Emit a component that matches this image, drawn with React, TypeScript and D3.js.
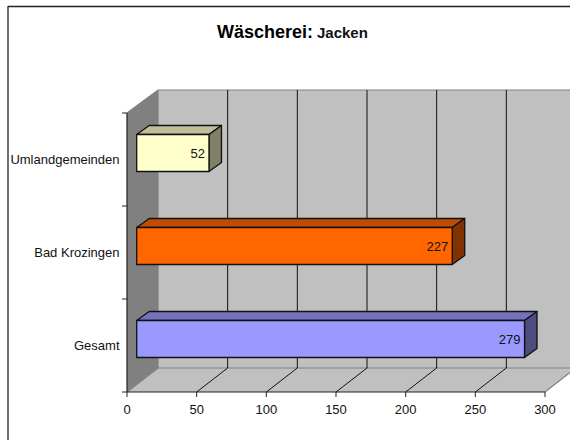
import React from "react";
import * as d3 from "d3";

const categories = ["Gesamt", "Bad Krozingen", "Umlandgemeinden"];
const values = [279, 227, 52];
const fronts = ["#9999FF", "#FF6600", "#FFFFCC"];
const tops = ["#7373BF", "#BF4C00", "#BFBF99"];
const sides = ["#4D4D80", "#803300", "#808066"];
const xTicks = [0, 50, 100, 150, 200, 250, 300];

const W = 570, H = 441;
const font = "'Liberation Sans', Arial, sans-serif";
const dx = 31;
const x = d3.scaleLinear().domain([0, 300]).range([127, 545]);
const y = d3.scaleBand<string>().domain(categories).range([392, 113]);
const barX = d3.scaleLinear().domain([0, 300]).range([136.7, 553.7]);
const gridCol = "#111", axis = "#222";

const pts = (p: number[][]) => p.map((q) => q.join(",")).join(" ");

export default function App() {
  const band = y.bandwidth();
  const bd = { dx: 12.5, dy: 9 };
  return (
    <svg width={W} height={H} viewBox={`0 0 ${W} ${H}`} style={{ position: "absolute", left: 0, top: 0, fontFamily: font }}>
      <rect width={W} height={H} fill="#fff" />
      <line x1={8} x2={570} y1={6.5} y2={6.5} stroke="#222" strokeWidth={1.3} />
      <line x1={8} x2={8} y1={6} y2={440} stroke="#222" strokeWidth={1.3} />

      {/* back wall, left wall, floor */}
      <polygon points={pts([[x(0) + dx, 90], [W, 90], [W, 368], [x(0) + dx, 368]])} fill="#C0C0C0" />
      <polygon points={pts([[x(0), 392], [x(300), 392], [W, 372.5], [W, 368], [x(0) + dx, 368]])} fill="#C0C0C0" />
      <polygon points={pts([[x(0), 113], [x(0) + dx, 90], [x(0) + dx, 368], [x(0), 392]])} fill="#808080" />
      <path d={`M${x(0)},113L${x(0) + dx},90H${W}M${x(0)},392L${x(0) + dx},368H${W}M${x(300)},392L${W},372.5M${x(0) + dx},90V368`} fill="none" stroke="#808080" strokeWidth={1.2} />

      {/* gridlines */}
      {xTicks.slice(1, -1).map((t) => (
        <g key={t}>
          <line x1={x(t) + dx} x2={x(t) + dx} y1={90} y2={368} stroke={gridCol} strokeWidth={1} />
          <line x1={x(t)} x2={x(t) + dx} y1={392} y2={368} stroke={gridCol} strokeWidth={1} />
        </g>
      ))}

      {/* bars */}
      {categories.map((c, i) => {
        const y0 = (y(c) as number) + band / 2 - 25;
        const y1 = y0 + 37;
        const x0 = barX(0), x1 = barX(values[i]);
        return (
          <g key={c} stroke="#111" strokeWidth={1.3} strokeLinejoin="round">
            <polygon points={pts([[x0, y0], [x0 + bd.dx, y0 - bd.dy], [x1 + bd.dx, y0 - bd.dy], [x1, y0]])} fill={tops[i]} />
            <polygon points={pts([[x1, y0], [x1 + bd.dx, y0 - bd.dy], [x1 + bd.dx, y1 - bd.dy], [x1, y1]])} fill={sides[i]} />
            <rect x={x0} y={y0} width={x1 - x0} height={y1 - y0} fill={fronts[i]} />
            <text x={x1 - 4} y={(y0 + y1) / 2} textAnchor="end" dominantBaseline="central" fontSize={13} fill="#111" stroke="none">{values[i]}</text>
          </g>
        );
      })}

      {/* axes */}
      <line x1={x(0)} x2={x(300)} y1={392} y2={392} stroke={axis} strokeWidth={1.2} />
      <line x1={x(0)} x2={x(0)} y1={113} y2={392} stroke={axis} strokeWidth={1.2} />
      {[0, 1, 2, 3].map((k) => (
        <line key={k} x1={122} x2={x(0)} y1={392 - k * band} y2={392 - k * band} stroke={axis} strokeWidth={1} />
      ))}
      {xTicks.map((t) => (
        <g key={t}>
          <line x1={x(t)} x2={x(t)} y1={392} y2={397} stroke={axis} strokeWidth={1} />
          <text x={x(t)} y={409} textAnchor="middle" dominantBaseline="central" fontSize={13} fill="#111">{t}</text>
        </g>
      ))}
      {categories.map((c) => (
        <text key={c} x={119.5} y={(y(c) as number) + band / 2 - 0.5} textAnchor="end" dominantBaseline="central" fontSize={13} fill="#111">{c}</text>
      ))}

      {/* title */}
      <text x={217} y={38} fontWeight="bold" fontSize={18} fill="#000">Wäscherei:</text>
      <text x={317} y={37.5} fontWeight="bold" fontSize={15} fill="#111">Jacken</text>
    </svg>
  );
}
